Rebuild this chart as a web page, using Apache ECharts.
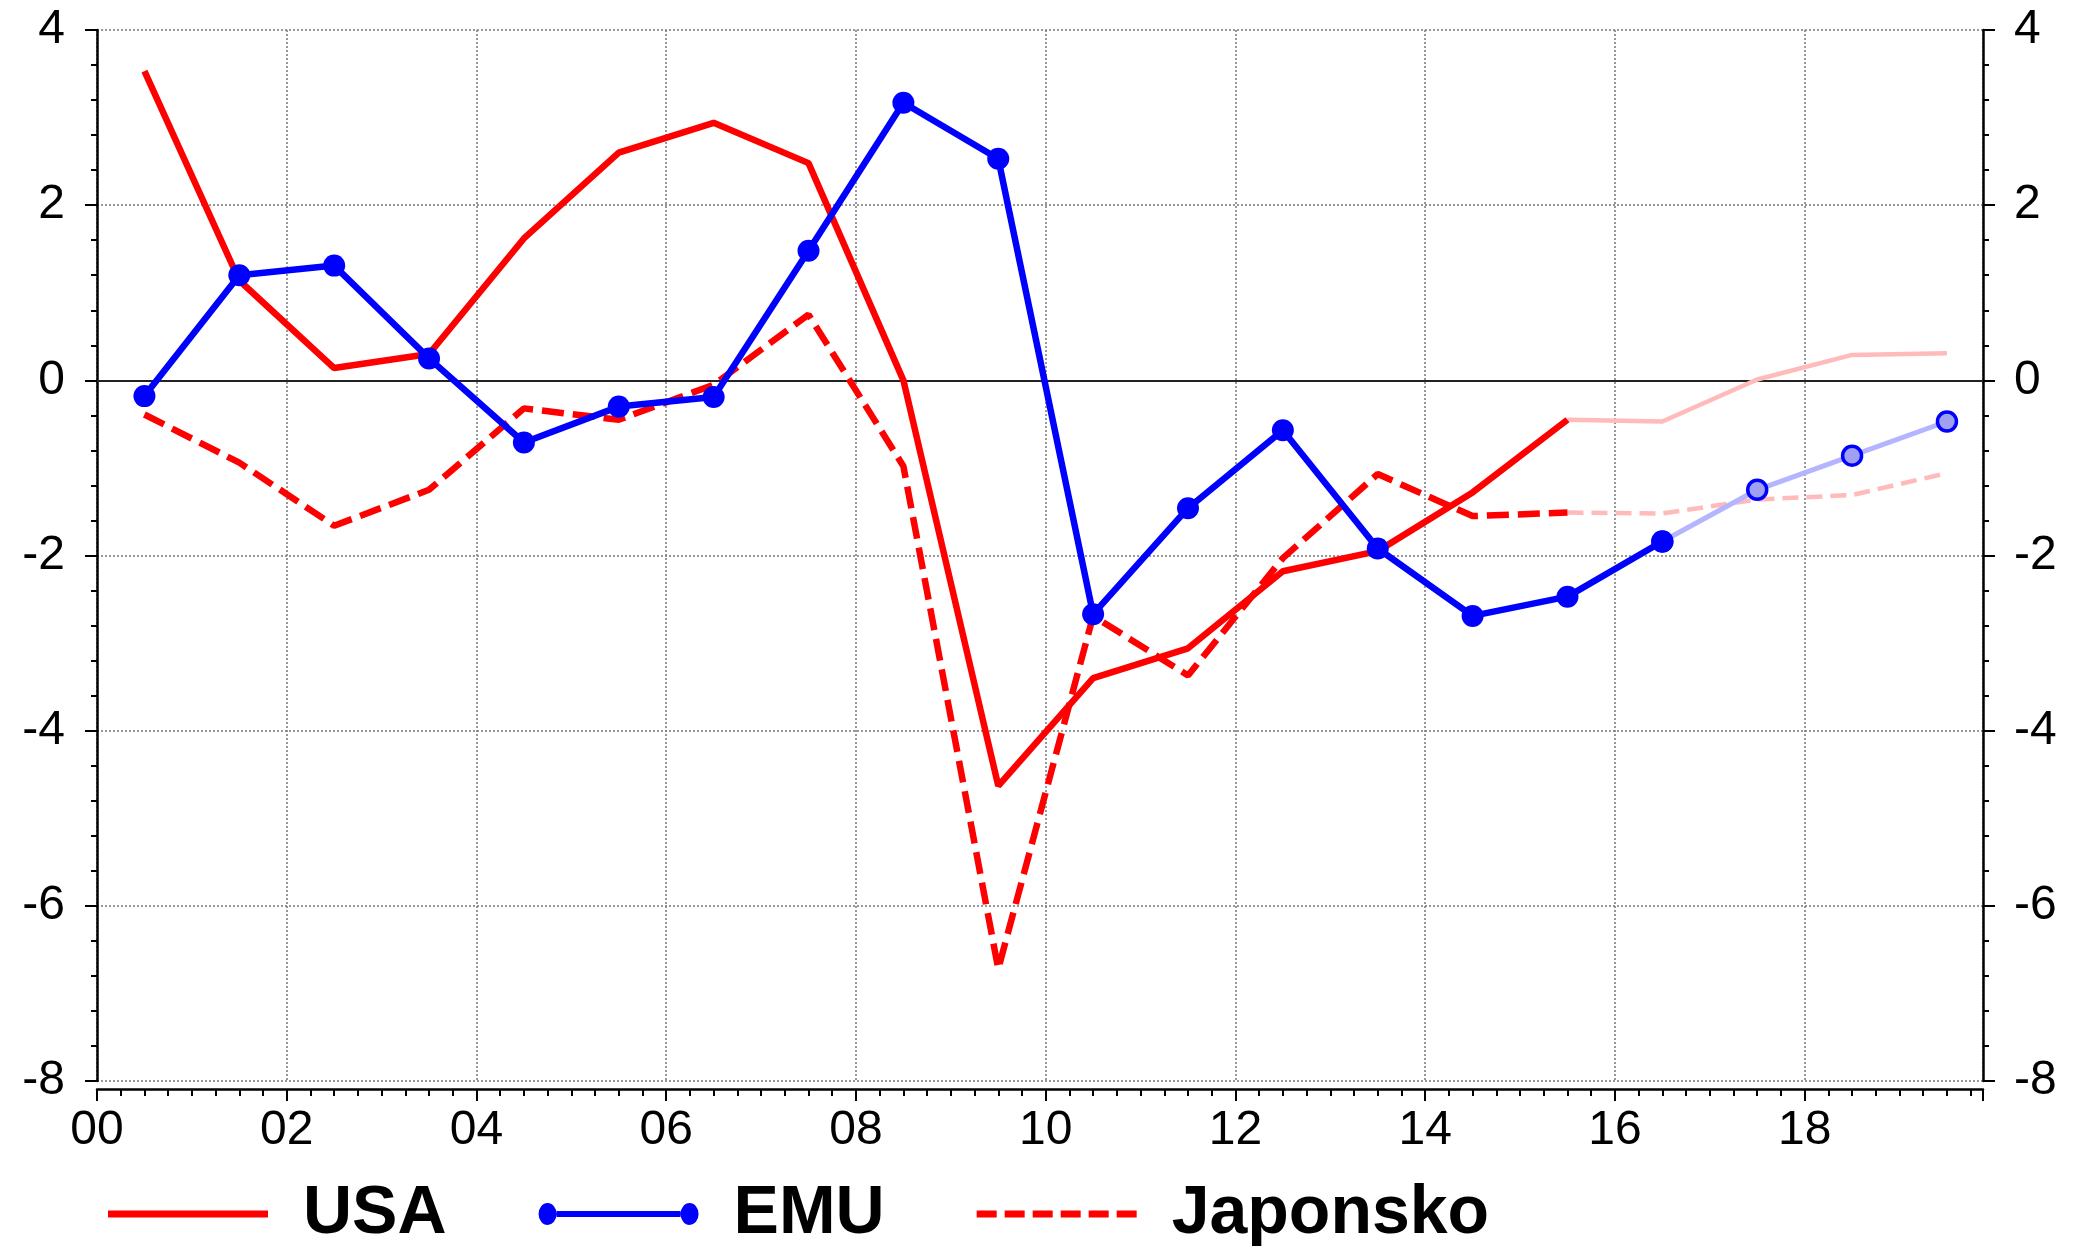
<!DOCTYPE html>
<html>
<head>
<meta charset="utf-8">
<script src="https://cdn.jsdelivr.net/npm/echarts@6/dist/echarts.min.js"></script>
<style>
html,body{margin:0;padding:0;background:#fff;}
#chart{width:2073px;height:1246px;}
</style>
</head>
<body>
<div id="chart"></div>
<script>
// ---- data (x = year + mid-year position, 00 = 2000) ----
const xTickLabels = ['00','02','04','06','08','10','12','14','16','18'];
const yTickLabels = ['-8','-6','-4','-2','0','2','4'];

const actualPeriods = [0.5,1.5,2.5,3.5,4.5,5.5,6.5,7.5,8.5,9.5,10.5,11.5,12.5,13.5,14.5,15.5];
const forecastPeriods = [15.5,16.5,17.5,18.5,19.5];
const emuActualPeriods = [0.5,1.5,2.5,3.5,4.5,5.5,6.5,7.5,8.5,9.5,10.5,11.5,12.5,13.5,14.5,15.5,16.5];
const emuForecastPeriods = [16.5,17.5,18.5,19.5];

const usaActual = [3.53,1.14,0.14,0.30,1.62,2.60,2.94,2.48,0.00,-4.63,-3.40,-3.06,-2.18,-1.95,-1.28,-0.45];
const usaForecast = [-0.45,-0.47,0.01,0.29,0.31];

const emuActual = [-0.18,1.20,1.31,0.25,-0.71,-0.30,-0.19,1.48,3.17,2.53,-2.67,-1.46,-0.57,-1.92,-2.69,-2.47,-1.84];
const emuForecast = [-1.84,-1.25,-0.86,-0.47];

const japanActual = [-0.39,-0.94,-1.66,-1.25,-0.32,-0.45,-0.05,0.75,-0.98,-6.72,-2.69,-3.37,-2.03,-1.07,-1.55,-1.51];
const japanForecast = [-1.51,-1.52,-1.36,-1.31,-1.06];

const seriesNames = ['USA','EMU','Japonsko'];

// ---- helpers ----
function pairs(xs, ys){ return xs.map((x,i)=>[x, ys[i]]); }
const FONT = '"Liberation Sans", Arial, sans-serif';
const gridStyle = {type:[2,2], color:'#777777', width:1.5};

const usaIcon = 'path://M0,0L160,0L160,7L0,7Z';
const emuIcon = 'path://M0,11A9,11 0 1,0 18,11A9,11 0 1,0 0,11Z M18,8L142,8L142,14L18,14Z M142,11A9,11 0 1,0 160,11A9,11 0 1,0 142,11Z';
const japIcon = 'path://M0,0L20,0L20,7L0,7Z M28,0L48,0L48,7L28,7Z M56,0L76,0L76,7L56,7Z M84,0L104,0L104,7L84,7Z M112,0L132,0L132,7L112,7Z M140,0L160,0L160,7L140,7Z';

function yAxisDef(pos, margin, split){
  return {
    type:'value', position:pos, min:-8, max:4, interval:2,
    axisLine:{show:true, onZero:false, lineStyle:{color:'#000', width:2.5}},
    axisTick:{show:true, inside:false, length:12, lineStyle:{color:'#000', width:2}},
    minorTick:{show:true, splitNumber:5, length:6, lineStyle:{color:'#000', width:2}},
    splitLine:{show:split, lineStyle:gridStyle},
    minorSplitLine:{show:false},
    axisLabel:{fontSize:48, fontFamily:FONT, color:'#000', margin:margin,
      formatter: v => { const i = Math.round((v + 8) / 2); return yTickLabels[i] !== undefined && Math.abs(v - (i*2 - 8)) < 1e-6 ? yTickLabels[i] : ''; }}
  };
}

const option = {
  animation:false,
  backgroundColor:'#ffffff',
  grid:{left:97, right:90, top:30, bottom:165, containLabel:false},
  xAxis:{
    type:'value', min:0, max:19.88, interval:2, offset:8,
    axisLine:{show:true, onZero:false, lineStyle:{color:'#000', width:2.5}},
    axisTick:{show:true, inside:false, length:12, lineStyle:{color:'#000', width:2}},
    minorTick:{show:true, splitNumber:8, length:7, lineStyle:{color:'#000', width:2}},
    splitLine:{show:true, lineStyle:gridStyle},
    minorSplitLine:{show:false},
    axisLabel:{fontSize:48, fontFamily:FONT, color:'#000', margin:18,
      formatter: v => { const i = Math.round(v/2); return (Math.abs(v - i*2) < 1e-6 && xTickLabels[i] !== undefined) ? xTickLabels[i] : ''; }}
  },
  yAxis:[ yAxisDef('left', 32, true), yAxisDef('right', 31, false) ],
  legend:{
    show:true, left:108, top:1180, padding:0, itemGap:92,
    itemWidth:160, itemHeight:22, symbolKeepAspect:true, selectedMode:false,
    data:[{name:seriesNames[0], icon:usaIcon},{name:seriesNames[1], icon:emuIcon},{name:seriesNames[2], icon:japIcon}],
    textStyle:{fontSize:68, fontWeight:'bold', fontFamily:FONT, color:'#000', padding:[0,0,0,30]}
  },
  series:[
    {
      name:'USA prognoza', type:'line', data:pairs(forecastPeriods, usaForecast), symbol:'none', silent:true,
      lineStyle:{color:'#ffbaba', width:4.5}, itemStyle:{color:'#ffbaba'},
      markLine:{silent:true, z:1, symbol:['none','none'], label:{show:false},
        lineStyle:{color:'#222', width:2, type:'solid'}, data:[{yAxis:0}]}
    },
    {
      name:'Japonsko prognoza', type:'line', data:pairs(forecastPeriods, japanForecast), symbol:'none', silent:true,
      lineStyle:{color:'#ffbaba', width:4.5, type:[16,8]}, itemStyle:{color:'#ffbaba'}
    },
    {
      name:'EMU prognoza', type:'line', data:pairs(emuForecastPeriods, emuForecast), symbol:'circle', symbolSize:19, silent:true,
      lineStyle:{color:'#b4b4ff', width:5}, itemStyle:{color:'#a0a0f0', borderColor:'#0000ff', borderWidth:3.5}
    },
    {
      name:seriesNames[2], type:'line', data:pairs(actualPeriods, japanActual), symbol:'none',
      lineStyle:{color:'#ff0000', width:6.5, type:[22,9]}, itemStyle:{color:'#ff0000'}
    },
    {
      name:seriesNames[0], type:'line', data:pairs(actualPeriods, usaActual), symbol:'none',
      lineStyle:{color:'#ff0000', width:6.5}, itemStyle:{color:'#ff0000'}
    },
    {
      name:seriesNames[1], type:'line', data:pairs(emuActualPeriods, emuActual), symbol:'circle', symbolSize:22,
      lineStyle:{color:'#0000ff', width:6.5}, itemStyle:{color:'#0000ff'}
    }
  ]
};

const chart = echarts.init(document.getElementById('chart'), null, {renderer:'canvas'});
chart.setOption(option);
</script>
</body>
</html>
